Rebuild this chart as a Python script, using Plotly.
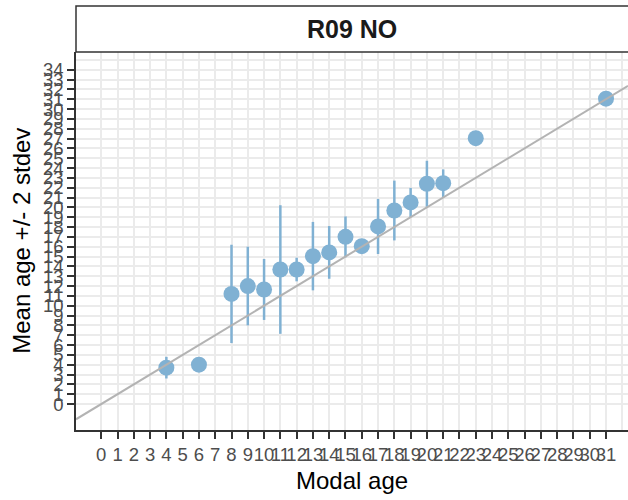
import numpy as np
import plotly.graph_objects as go

# Data
modal_age = [4, 6, 8, 9, 10, 11, 12, 13, 14, 15, 16, 17, 18, 19, 20, 21, 23, 31]
mean_age = [3.7, 4.0, 11.2, 12.0, 11.65, 13.68, 13.68, 15.04, 15.42, 17.0,
            16.05, 18.06, 19.68, 20.5, 22.4, 22.46, 27.04, 31.05]
stdev_age = [0.55, 0.0, 2.5, 2.0, 1.55, 3.27, 0.6, 1.74, 1.34, 1.04,
             0.0, 1.4, 1.52, 0.74, 1.17, 0.7, 0.0, 0.0]
facet_label = "R09 NO"

x_ticks = list(range(0, 32))
y_ticks = list(range(0, 35))
x_range = [-1.55, 32.35]
y_range = [-2.64, 35.8]

point_col = "#80B1D3"
font = "Liberation Sans, Arial, sans-serif"

fig = go.Figure()

fig.add_trace(go.Scatter(
    x=modal_age,
    y=mean_age,
    mode="markers",
    marker=dict(size=16, color=point_col, line=dict(width=0)),
    error_y=dict(type="data", array=[2 * s for s in stdev_age], visible=True,
                 color=point_col, thickness=2.5, width=0),
    showlegend=False,
))

# y = x reference line across the panel
fig.add_trace(go.Scatter(
    x=x_range,
    y=x_range,
    mode="lines",
    line=dict(color="#B3B3B3", width=2),
    showlegend=False,
    hoverinfo="skip",
))

axis_common = dict(
    showline=True,
    linecolor="#333333",
    linewidth=1.5,
    ticks="outside",
    ticklen=7,
    tickwidth=1.5,
    tickcolor="#333333",
    tickfont=dict(family=font, size=18.5, color="#4D4D4D"),
    showgrid=True,
    gridcolor="#EBEBEB",
    gridwidth=1.5,
    zeroline=False,
    mirror=False,
    automargin=False,
)

fig.update_layout(
    width=628,
    height=500,
    margin=dict(l=76, r=0, t=52, b=70, pad=0),
    plot_bgcolor="white",
    paper_bgcolor="white",
    font=dict(family=font, color="black"),
    xaxis=dict(
        range=x_range,
        tickmode="array",
        tickvals=x_ticks,
        ticktext=[str(v) for v in x_ticks],
        tickangle=0,
        minor=dict(tickmode="array", tickvals=[32], showgrid=True,
                   gridcolor="#EBEBEB", gridwidth=1.5, ticks=""),
        **axis_common,
    ),
    yaxis=dict(
        range=y_range,
        tickmode="array",
        tickvals=y_ticks,
        ticktext=[str(v) for v in y_ticks],
        minor=dict(tickmode="array", tickvals=[35], showgrid=True,
                   gridcolor="#EBEBEB", gridwidth=1.5, ticks=""),
        **axis_common,
    ),
)

# facet strip
strip_h = 46 / 378
fig.add_shape(type="rect", xref="paper", yref="paper",
              x0=0, x1=1.02, y0=1, y1=1 + strip_h,
              fillcolor="white", line=dict(color="#333333", width=1.5))
fig.add_annotation(text=f"<b>{facet_label}</b>", xref="paper", yref="paper",
                   x=0.5, y=1 + strip_h / 2, showarrow=False,
                   xanchor="center", yanchor="middle",
                   font=dict(family=font, size=25, color="#1A1A1A"))

# axis titles
fig.add_annotation(text="Modal age", xref="paper", yref="paper",
                   x=0.5, y=-0.134, showarrow=False,
                   xanchor="center", yanchor="middle",
                   font=dict(family=font, size=24, color="black"))
fig.add_annotation(text="Mean age +/- 2 stdev", xref="paper", yref="paper",
                   x=-0.1, y=0.5, showarrow=False, textangle=-90,
                   xanchor="center", yanchor="middle",
                   font=dict(family=font, size=24, color="black"))

# drop the default 8px body margin so the figure fills the window
fig.write_html("out.html", config={"displayModeBar": False},
               post_script="document.body.style.margin='0';")
